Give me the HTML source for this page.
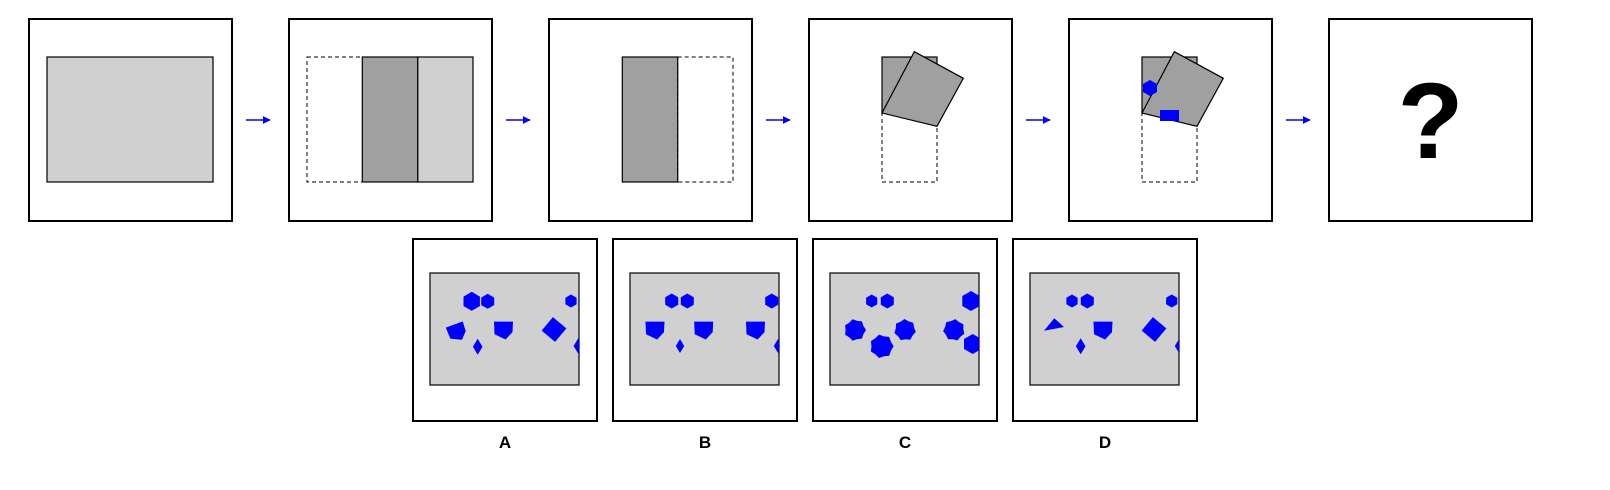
<!DOCTYPE html>
<html><head><meta charset="utf-8"><style>
html,body{margin:0;padding:0;background:#fff;}
svg{display:block;}
text{font-family:"Liberation Sans",sans-serif;font-weight:bold;}
</style></head><body>
<svg id="s" width="1610" height="490" viewBox="0 0 1610 490" xmlns="http://www.w3.org/2000/svg">
<defs>
<marker id="ah" viewBox="0 0 10 10" refX="9" refY="5" markerWidth="5" markerHeight="5" orient="auto"><path d="M0,0 L10,5 L0,10 z" fill="#0000ff"/></marker>
</defs>
<!-- Panel 1 -->
<g>
<rect x="29" y="19" width="203" height="202" fill="#fff" stroke="#000" stroke-width="2"/>
<rect x="47" y="57" width="166" height="125" fill="#d0d0d0" stroke="#000" stroke-width="1.2"/>
</g>
<!-- Panel 2 -->
<g>
<rect x="289" y="19" width="203" height="202" fill="#fff" stroke="#000" stroke-width="2"/>
<rect x="307" y="57" width="166" height="125" fill="none" stroke="#000" stroke-width="1" stroke-dasharray="4,3"/>
<rect x="417.7" y="57" width="55.3" height="125" fill="#d0d0d0" stroke="#000" stroke-width="1.2"/>
<rect x="362.3" y="57" width="55.4" height="125" fill="#a0a0a0" stroke="#000" stroke-width="1.2"/>
</g>
<!-- Panel 3 -->
<g>
<rect x="549" y="19" width="203" height="202" fill="#fff" stroke="#000" stroke-width="2"/>
<rect x="677.7" y="57" width="55.3" height="125" fill="none" stroke="#000" stroke-width="1" stroke-dasharray="4,3"/>
<rect x="622.3" y="57" width="55.4" height="125" fill="#a0a0a0" stroke="#000" stroke-width="1.2"/>
</g>
<!-- Panel 4 -->
<g>
<rect x="809" y="19" width="203" height="202" fill="#fff" stroke="#000" stroke-width="2"/>
<rect x="882" y="113" width="55" height="69" fill="none" stroke="#000" stroke-width="1" stroke-dasharray="4,3"/>
<rect x="882" y="57" width="55" height="56" fill="#a0a0a0" stroke="#000" stroke-width="1.2"/>
<polygon points="914.3,51.7 963.3,78.3 937,126.3 882,113" fill="#a0a0a0" stroke="#000" stroke-width="1.2"/>
</g>
<!-- Panel 5 -->
<g>
<rect x="1069" y="19" width="203" height="202" fill="#fff" stroke="#000" stroke-width="2"/>
<rect x="1142" y="113" width="55" height="69" fill="none" stroke="#000" stroke-width="1" stroke-dasharray="4,3"/>
<rect x="1142" y="57" width="55" height="56" fill="#a0a0a0" stroke="#000" stroke-width="1.2"/>
<polygon points="1174.3,51.7 1223.3,78.3 1197,126.3 1142,113" fill="#a0a0a0" stroke="#000" stroke-width="1.2"/>
<polygon points="1150,80 1157,84 1157,92 1150,96 1143,92 1143,84" fill="#0000ff"/>
<rect x="1160" y="110" width="19" height="11" fill="#0000ff"/>
</g>
<!-- Panel 6 -->
<g>
<rect x="1329" y="19" width="203" height="202" fill="#fff" stroke="#000" stroke-width="2"/>
<text x="1430.5" y="158" font-size="108" text-anchor="middle" fill="#000">?</text>
</g>
<!-- Arrows -->
<g>
<line x1="246" y1="120" x2="270" y2="120" stroke="#0000ff" stroke-width="1.6" marker-end="url(#ah)"/>
<line x1="506" y1="120" x2="530" y2="120" stroke="#0000ff" stroke-width="1.6" marker-end="url(#ah)"/>
<line x1="766" y1="120" x2="790" y2="120" stroke="#0000ff" stroke-width="1.6" marker-end="url(#ah)"/>
<line x1="1026" y1="120" x2="1050" y2="120" stroke="#0000ff" stroke-width="1.6" marker-end="url(#ah)"/>
<line x1="1286" y1="120" x2="1310" y2="120" stroke="#0000ff" stroke-width="1.6" marker-end="url(#ah)"/>
</g>
<g id="opts"></g>
</svg>
<script>
const NS='http://www.w3.org/2000/svg';
const optLetters=['A','B','C','D'];
const optLeft=[413,613,813,1013];
// shapes relative to inner rect: [type, cx, cy, size, rotation]
const optShapes=[
 [['hex',41.7,28.3,9.5,0],['hex',57.7,28.3,7.5,0],['hex',141,28,6.5,0],['pent',27,59,9,-20],['pent',73.5,57,9.5,0],['dia',47.7,73.7,8,0],['sq',124,56.5,11,40],['dia',149,73,9,0]],
 [['hex',41.7,28,7.5,0],['hex',57.3,28,7.5,0],['hex',141.7,28,7.5,0],['pent',25,57,9.5,0],['pent',73.7,57,9.5,0],['pent',125.5,57,9.5,0],['dia',50,73,7,0],['dia',148,73,7,0]],
 [['hex',41.7,28,6.5,0],['hex',57.3,28,7.5,0],['hex',141,28,10,0],['blob',25,57,11,0],['blob',75,57,11,10],['blob',124,57,11,20],['blob',51.7,73.3,12,0],['hex',142.7,71,10,0]],
 [['hex',42,28,6.5,0],['hex',57.3,28,7.5,0],['hex',141.7,28,6.5,0],['tri',0,0,0,0],['pent',73,57,9.5,0],['dia',50.7,73.3,8,0],['sq',124,56.5,11,40],['dia',149,73,7,0]]
];
function pts(type,cx,cy,r,rot){
  let p=[];
  if(type==='hex'){for(let i=0;i<6;i++){const a=(i*60+90)*Math.PI/180;p.push([cx+r*Math.cos(a),cy+r*Math.sin(a)]);}}
  else if(type==='pent'){p=[[-9,-8],[9,-8],[8.5,2],[2,9],[-8.5,4]].map(q=>[q[0]*r/9,q[1]*r/9]);}
  else if(type==='dia'){p=[[0,-r],[r*0.6,0],[0,r],[-r*0.6,0]];}
  else if(type==='sq'){p=[[-r*0.8,-r*0.8],[r*0.8,-r*0.8],[r*0.8,r*0.8],[-r*0.8,r*0.8]];}
  else if(type==='blob'){for(let i=0;i<14;i++){const a=i*2*Math.PI/14;const rr=i%2?r*0.85:r;p.push([rr*Math.cos(a),rr*Math.sin(a)]);}}
  else if(type==='tri'){return [[14,57.7],[24.3,45.3],[34,54]];}
  if(type!=='hex'){const a=rot*Math.PI/180;p=p.map(q=>[cx+q[0]*Math.cos(a)-q[1]*Math.sin(a),cy+q[0]*Math.sin(a)+q[1]*Math.cos(a)]);}
  return p;
}
const g=document.getElementById('opts');
const defs=document.querySelector('defs');
optLetters.forEach((L,i)=>{
  const x=optLeft[i];
  const og=document.createElementNS(NS,'g');
  
  
  const box=document.createElementNS(NS,'rect');
  box.setAttribute('x',x);box.setAttribute('y',239);box.setAttribute('width',184);box.setAttribute('height',182);
  box.setAttribute('fill','#fff');box.setAttribute('stroke','#000');box.setAttribute('stroke-width','2');
  
  
  og.appendChild(box);
  const ix=x+17, iy=273;
  const cp=document.createElementNS(NS,'clipPath');cp.setAttribute('id','c'+i);
  const cr=document.createElementNS(NS,'rect');cr.setAttribute('x',ix);cr.setAttribute('y',iy);cr.setAttribute('width',149);cr.setAttribute('height',112);
  cp.appendChild(cr);defs.appendChild(cp);
  const inner=document.createElementNS(NS,'rect');
  inner.setAttribute('x',ix);inner.setAttribute('y',iy);inner.setAttribute('width',149);inner.setAttribute('height',112);
  inner.setAttribute('fill','#d0d0d0');inner.setAttribute('stroke','#000');inner.setAttribute('stroke-width','1.2');
  
  
  og.appendChild(inner);
  const sg=document.createElementNS(NS,'g');sg.setAttribute('clip-path','url(#c'+i+')');
  optShapes[i].forEach(s=>{
    const pl=document.createElementNS(NS,'polygon');
    pl.setAttribute('points',pts(s[0],s[1],s[2],s[3],s[4]).map(q=>(q[0]+ix).toFixed(1)+','+(q[1]+iy).toFixed(1)).join(' '));
    pl.setAttribute('fill','#0000ff');
    
    
    sg.appendChild(pl);
  });
  og.appendChild(sg);
  const t=document.createElementNS(NS,'text');
  t.setAttribute('x',x+92);t.setAttribute('y',448);t.setAttribute('font-size','17');t.setAttribute('text-anchor','middle');
  t.textContent=L;
  
  
  og.appendChild(t);
  g.appendChild(og);
});
</script>
</body></html>
